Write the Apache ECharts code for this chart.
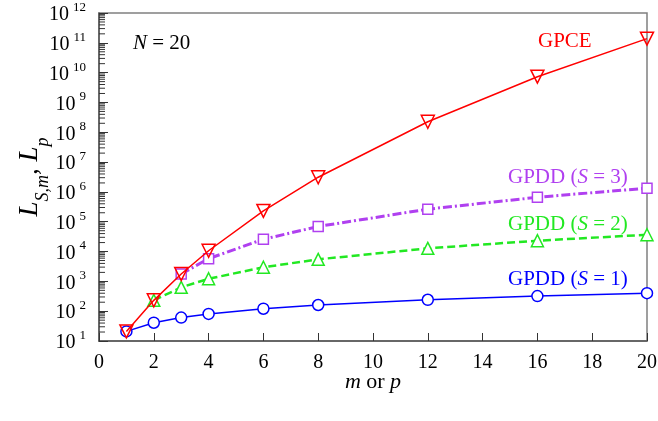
<!DOCTYPE html>
<html>
<head>
<meta charset="UTF-8">
<title>L vs m or p</title>
<script src="https://cdn.jsdelivr.net/npm/echarts@6/dist/echarts.min.js"></script>
<style>
  html, body { margin: 0; padding: 0; background: #fff; }
  #main { width: 658px; height: 421px; }
</style>
</head>
<body>
<div id="main"></div>
<script>
// m or p values
var gpceX = [1, 2, 3, 4, 6, 8, 12, 16, 20];
var gpceY = [21, 231, 1771, 10626, 230230, 3108105, 225792840, 7307872110, 137846528820];

var s1X = [1, 2, 3, 4, 6, 8, 12, 16, 20];
var s1Y = [21, 41, 61, 81, 121, 161, 241, 321, 401];

var s2X = [2, 3, 4, 6, 8, 12, 16, 20];
var s2Y = [231, 631, 1221, 2971, 5481, 12781, 23121, 36501];

var s3X = [3, 4, 6, 8, 12, 16, 20];
var s3Y = [1771, 5781, 25771, 69321, 263581, 661521, 1336101];

var font = '"Liberation Serif", "DejaVu Serif", serif';

function pairs(xs, ys) {
  return xs.map(function (x, i) { return [x, ys[i]]; });
}

// minor ticks of the log axis: 2..9 in every decade
var minorTicks = [];
for (var e = 1; e < 12; e++) {
  for (var k = 2; k <= 9; k++) minorTicks.push([0, k * Math.pow(10, e)]);
}

var chart = echarts.init(document.getElementById('main'));

var option = {
  animation: false,
  grid: {
    left: 99, right: 11, top: 13, bottom: 80,
    containLabel: false,
    outerBoundsMode: 'none',
    show: true, borderColor: '#808080', borderWidth: 1.5
  },
  xAxis: {
    type: 'value',
    min: 0, max: 20, interval: 2,
    name: '{i|m} or {i|p}',
    nameLocation: 'middle',
    nameGap: 30,
    nameMoveOverlap: false,
    nameTextStyle: {
      fontFamily: font, fontSize: 22, color: '#000',
      rich: { i: { fontFamily: font, fontSize: 22, fontStyle: 'italic', color: '#000' } }
    },
    axisLine: { lineStyle: { color: '#555', width: 1.5 } },
    axisTick: { inside: true, length: 8, lineStyle: { color: '#333' } },
    axisLabel: { fontFamily: font, fontSize: 20, color: '#000', margin: 12 },
    splitLine: { show: false }
  },
  yAxis: {
    type: 'log',
    logBase: 10,
    min: 10, max: 1e12, interval: 1,
    name: '{i|L}{sub|S,m}{i|, L}{sub|p}',
    nameLocation: 'middle',
    nameGap: 47,
    nameMoveOverlap: false,
    nameRotate: 90,
    nameTextStyle: {
      fontFamily: font, fontSize: 27, color: '#000',
      rich: {
        i: { fontFamily: font, fontSize: 27, fontStyle: 'italic', color: '#000', lineHeight: 36, verticalAlign: 'top' },
        sub: { fontFamily: font, fontSize: 18, fontStyle: 'italic', color: '#000', lineHeight: 36, verticalAlign: 'bottom' }
      }
    },
    axisLine: { lineStyle: { color: '#555', width: 1.5 } },
    axisTick: { inside: true, length: 9, lineStyle: { color: '#333' } },
    axisLabel: {
      margin: 13,
      formatter: function (v) {
        return '{b|10}{s|' + Math.round(Math.log10(v)) + '}';
      },
      rich: {
        b: { fontFamily: font, fontSize: 20, color: '#000', lineHeight: 24, verticalAlign: 'bottom' },
        s: { fontFamily: font, fontSize: 13, color: '#000', lineHeight: 24, verticalAlign: 'top', padding: [0, 0, 0, 4] }
      }
    },
    splitLine: { show: false },
    minorTick: { show: false }
  },
  series: [
    {
      type: 'custom',
      silent: true,
      data: minorTicks,
      renderItem: function (params, api) {
        var p = api.coord([api.value(0), api.value(1)]);
        return {
          type: 'line',
          shape: { x1: p[0], y1: p[1], x2: p[0] + 6, y2: p[1] },
          style: { stroke: '#333', lineWidth: 1 }
        };
      },
      z: 1
    },
    {
      name: 'GPDD (S = 1)',
      type: 'line',
      data: pairs(s1X, s1Y),
      symbol: 'circle',
      symbolSize: 11,
      itemStyle: { color: '#fff', borderColor: '#0000ff', borderWidth: 1.5 },
      lineStyle: { color: '#0000ff', width: 1.5 },
      z: 2
    },
    {
      name: 'GPDD (S = 2)',
      type: 'line',
      data: pairs(s2X, s2Y),
      symbol: 'triangle',
      symbolSize: 12,
      itemStyle: { color: '#fff', borderColor: '#22e822', borderWidth: 1.5 },
      lineStyle: { color: '#22e822', width: 2.5, type: [8, 4] },
      z: 3
    },
    {
      name: 'GPDD (S = 3)',
      type: 'line',
      data: pairs(s3X, s3Y),
      symbol: 'rect',
      symbolSize: 10,
      itemStyle: { color: '#fff', borderColor: '#b040f0', borderWidth: 1.5 },
      lineStyle: { color: '#b040f0', width: 3, type: [9, 3, 2, 3] },
      z: 4
    },
    {
      name: 'GPCE',
      type: 'line',
      data: pairs(gpceX, gpceY),
      symbol: 'triangle',
      symbolRotate: 180,
      symbolSize: 13,
      itemStyle: { color: 'rgba(255,255,255,0)', borderColor: '#ff0000', borderWidth: 1.5 },
      lineStyle: { color: '#ff0000', width: 1.5 },
      z: 5
    }
  ],
  graphic: [
    {
      type: 'text', left: 133, top: 33,
      style: {
        text: '{i|N} = 20',
        font: '21px ' + font, fill: '#000',
        rich: { i: { fontFamily: font, fontSize: 21, fontStyle: 'italic', fill: '#000' } }
      }
    },
    {
      type: 'text', left: 538, top: 31,
      style: { text: 'GPCE', font: '21px ' + font, fill: '#ff0000' }
    },
    {
      type: 'text', left: 508, top: 167,
      style: {
        text: 'GPDD ({i|S} = 3)', font: '21px ' + font, fill: '#b040f0',
        rich: { i: { fontFamily: font, fontSize: 21, fontStyle: 'italic', fill: '#b040f0' } }
      }
    },
    {
      type: 'text', left: 508, top: 214,
      style: {
        text: 'GPDD ({i|S} = 2)', font: '21px ' + font, fill: '#22e822',
        rich: { i: { fontFamily: font, fontSize: 21, fontStyle: 'italic', fill: '#22e822' } }
      }
    },
    {
      type: 'text', left: 508, top: 269,
      style: {
        text: 'GPDD ({i|S} = 1)', font: '21px ' + font, fill: '#0000ff',
        rich: { i: { fontFamily: font, fontSize: 21, fontStyle: 'italic', fill: '#0000ff' } }
      }
    }
  ]
};

chart.setOption(option);
</script>
</body>
</html>
